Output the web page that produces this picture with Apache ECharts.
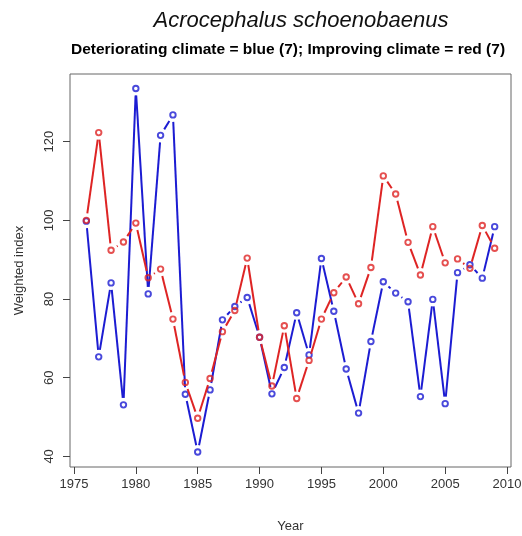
<!DOCTYPE html>
<html>
<head>
<meta charset="utf-8">
<script src="https://cdn.jsdelivr.net/npm/echarts@6/dist/echarts.min.js"></script>
<style>
  html, body { margin: 0; padding: 0; background: #fff; }
  #chart { width: 522px; height: 536px; }
</style>
</head>
<body>
<div id="chart"></div>
<script>
// Sedge warbler weighted index per year, split by climate trend
const years = [1976, 1977, 1978, 1979, 1980, 1981, 1982, 1983, 1984, 1985,
  1986, 1987, 1988, 1989, 1990, 1991, 1992, 1993, 1994, 1995,
  1996, 1997, 1998, 1999, 2000, 2001, 2002, 2003, 2004, 2005,
  2006, 2007, 2008, 2009];

const deteriorating = [99.8, 65.3, 84.1, 53.1, 133.5, 81.3, 121.6, 126.8, 55.8, 41.1,
  56.9, 74.7, 78.1, 80.4, 70.3, 55.9, 62.6, 76.5, 65.8, 90.3,
  76.9, 62.2, 51.0, 69.2, 84.4, 81.5, 79.3, 55.2, 79.9, 53.4,
  86.7, 88.7, 85.3, 98.4];

const improving = [100.0, 122.3, 92.4, 94.5, 99.3, 85.4, 87.6, 74.9, 58.8, 49.7,
  59.8, 71.7, 77.1, 90.4, 70.3, 57.9, 73.2, 54.7, 64.4, 74.9,
  81.6, 85.6, 78.8, 88.0, 111.3, 106.7, 94.4, 86.1, 98.4, 89.2,
  90.2, 87.8, 98.7, 92.9];

const xTicks = [1975, 1980, 1985, 1990, 1995, 2000, 2005, 2010];
const yTicks = [40, 60, 80, 100, 120];

const BLUE = '#1c1cd2';
const RED = '#de2424';
const FONT = '"Liberation Sans", Arial, sans-serif';

// consecutive point pairs, for segments that stop short of each marker
function pairs(vals) {
  const out = [];
  for (let i = 0; i < years.length - 1; i++) {
    out.push([years[i], vals[i], years[i + 1], vals[i + 1]]);
  }
  return out;
}

function gappedSegment(color) {
  const gap = 7;
  return function (params, api) {
    const a = api.coord([api.value(0), api.value(1)]);
    const b = api.coord([api.value(2), api.value(3)]);
    const dx = b[0] - a[0], dy = b[1] - a[1];
    const len = Math.sqrt(dx * dx + dy * dy);
    if (len <= 2 * gap) return null;
    const ux = dx / len, uy = dy / len;
    return {
      type: 'line',
      shape: {
        x1: a[0] + ux * gap, y1: a[1] + uy * gap,
        x2: b[0] - ux * gap, y2: b[1] - uy * gap
      },
      style: { stroke: color, lineWidth: 2, lineCap: 'butt' }
    };
  };
}

function points(vals) {
  return years.map((y, i) => [y, vals[i]]);
}

const plain = v => String(v);

const chart = echarts.init(document.getElementById('chart'), null, { renderer: 'canvas' });

chart.setOption({
  animation: false,
  backgroundColor: '#ffffff',
  textStyle: { fontFamily: FONT },
  title: [
    {
      text: 'Acrocephalus schoenobaenus',
      left: 296, top: 5, textAlign: 'center',
      textStyle: { fontFamily: FONT, fontStyle: 'italic', fontWeight: 'normal', fontSize: 22, color: '#111' }
    },
    {
      text: 'Deteriorating climate = blue (7); Improving climate = red (7)',
      left: 283, top: 37, textAlign: 'center',
      textStyle: { fontFamily: FONT, fontWeight: 'bold', fontSize: 15.5, color: '#000' }
    }
  ],
  grid: {
    left: 70, right: 11, top: 74, bottom: 69,
    outerBoundsMode: 'none',
    containLabel: false,
    show: true, borderColor: '#666', borderWidth: 1, backgroundColor: 'transparent'
  },
  xAxis: {
    type: 'value',
    min: 1974.68, max: 2010.32,
    name: 'Year', nameLocation: 'middle', nameGap: 53,
    nameTextStyle: { fontFamily: FONT, fontSize: 13, color: '#333' },
    axisLine: { show: false },
    splitLine: { show: false },
    axisTick: { show: true, length: 7, lineStyle: { color: '#444', width: 1 }, customValues: xTicks },
    axisLabel: { margin: 11, fontFamily: FONT, fontSize: 13, color: '#333', customValues: xTicks, formatter: plain }
  },
  yAxis: {
    type: 'value',
    min: 37.3, max: 137.2,
    name: 'Weighted index', nameLocation: 'middle', nameGap: 44, nameRotate: 90,
    nameTextStyle: { fontFamily: FONT, fontSize: 13, color: '#333' },
    axisLine: { show: false },
    splitLine: { show: false },
    axisTick: { show: true, length: 7, lineStyle: { color: '#444', width: 1 }, customValues: yTicks },
    axisLabel: { rotate: 90, margin: 14, fontFamily: FONT, fontSize: 13, color: '#333', customValues: yTicks, formatter: plain }
  },
  series: [
    {
      name: 'Deteriorating', type: 'custom', z: 2,
      renderItem: gappedSegment(BLUE),
      encode: { x: [0, 2], y: [1, 3] },
      data: pairs(deteriorating)
    },
    {
      name: 'Deteriorating points', type: 'scatter', z: 3,
      symbol: 'circle', symbolSize: 5.5,
      itemStyle: { color: 'none', borderColor: BLUE, borderWidth: 1.9 },
      data: points(deteriorating)
    },
    {
      name: 'Improving', type: 'custom', z: 4,
      renderItem: gappedSegment(RED),
      encode: { x: [0, 2], y: [1, 3] },
      data: pairs(improving)
    },
    {
      name: 'Improving points', type: 'scatter', z: 5,
      symbol: 'circle', symbolSize: 5.5,
      itemStyle: { color: 'none', borderColor: RED, borderWidth: 1.9 },
      data: points(improving)
    }
  ]
});
</script>
</body>
</html>
